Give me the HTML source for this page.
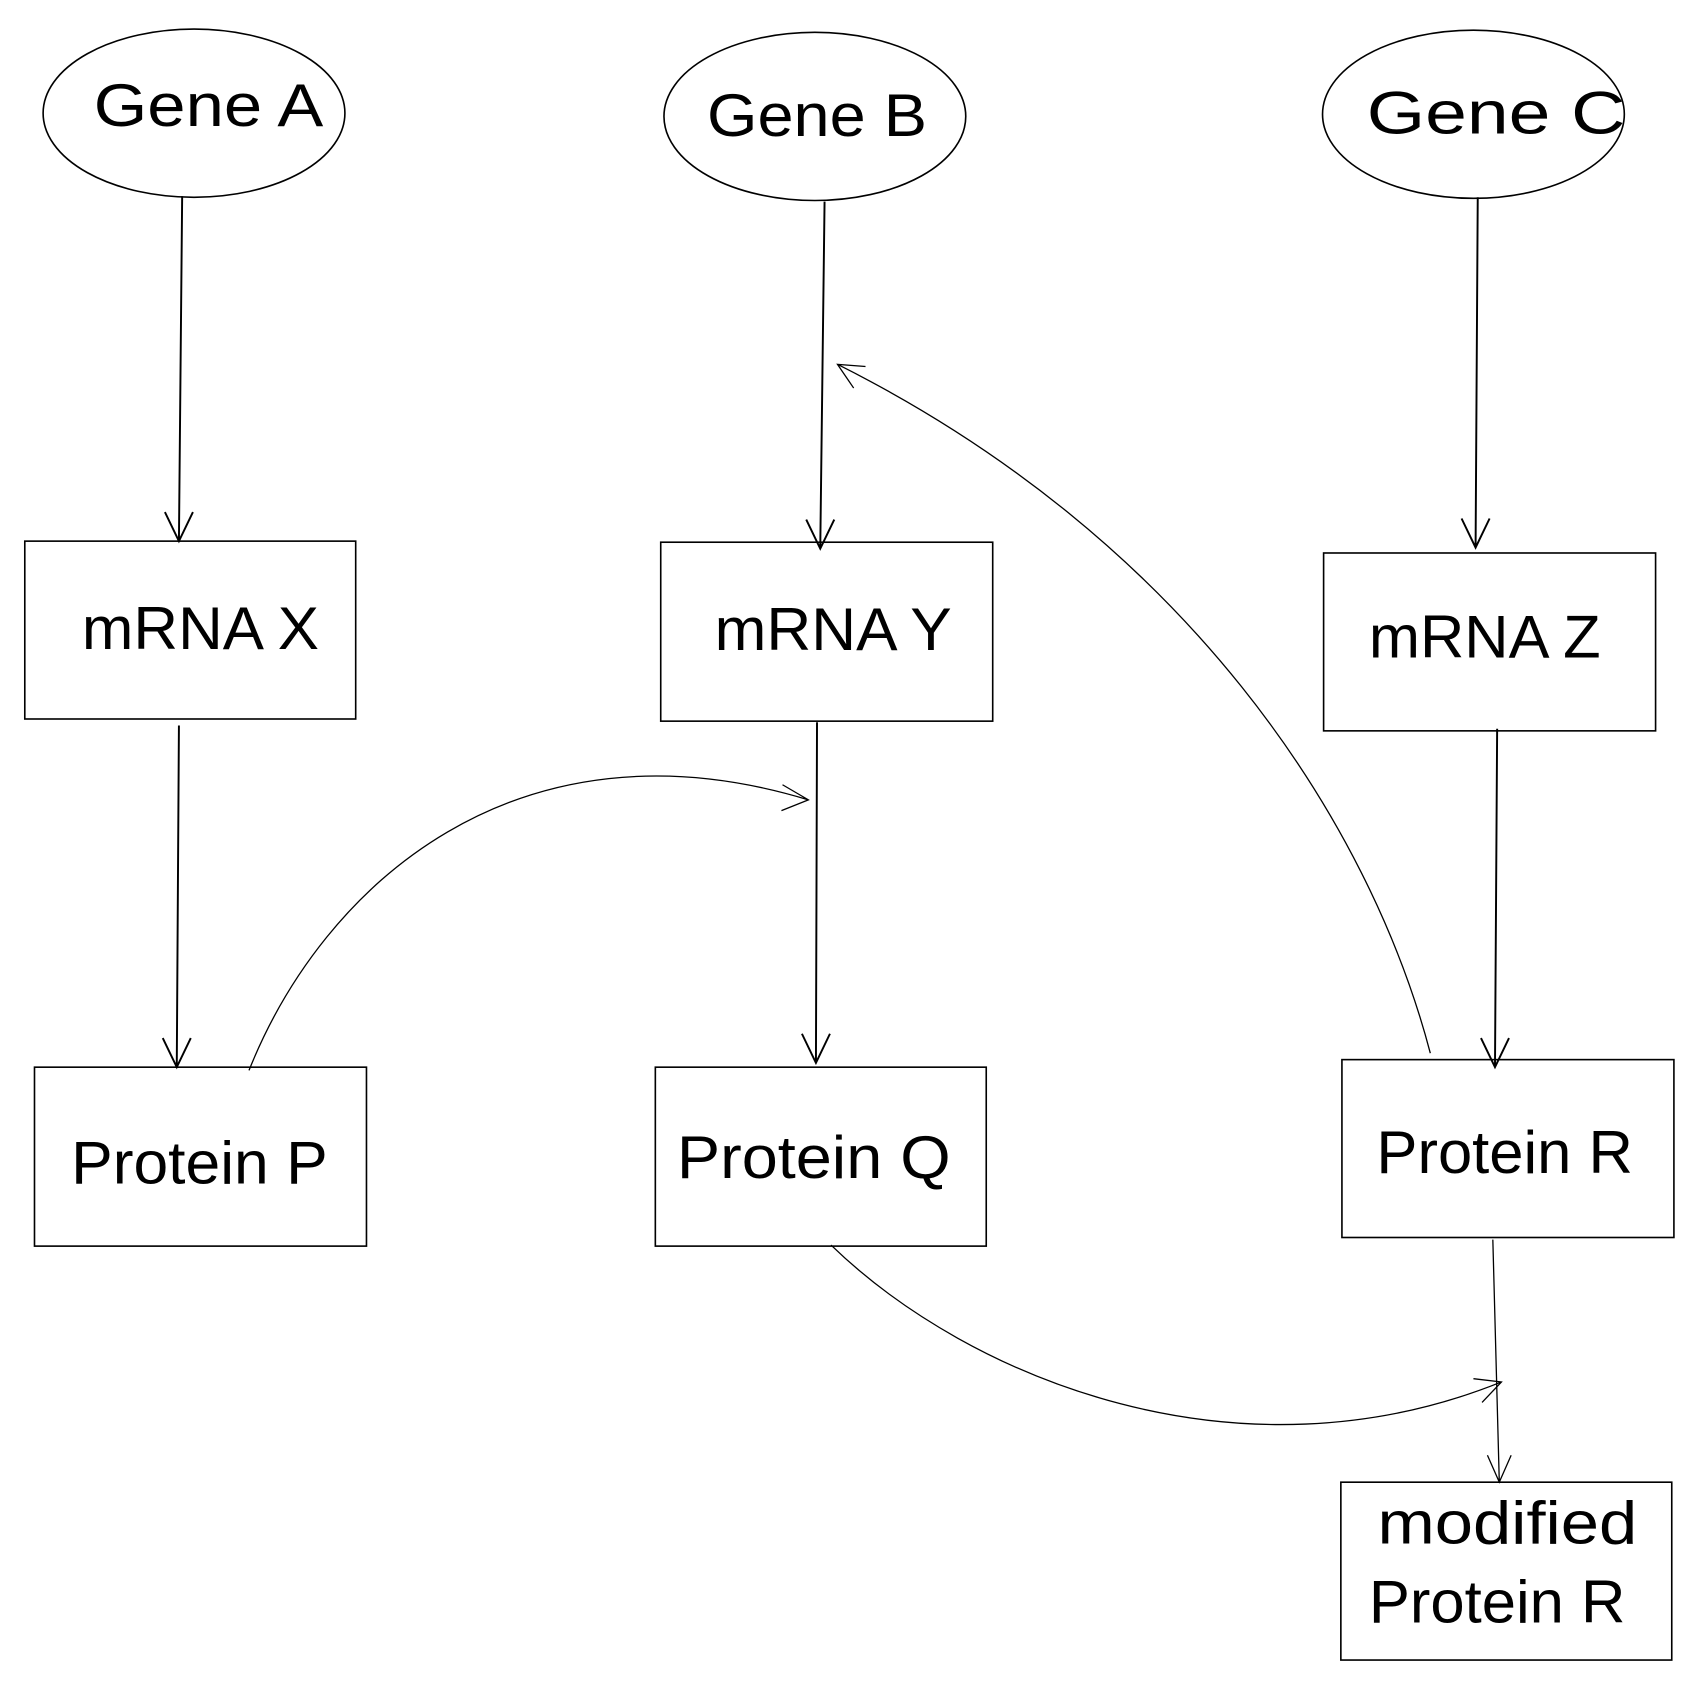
<!DOCTYPE html>
<html><head><style>html,body{margin:0;padding:0;background:#fff}svg{display:block}</style></head><body>
<svg width="1689" height="1687" viewBox="0 0 1567 1565" preserveAspectRatio="none" xmlns="http://www.w3.org/2000/svg">
<g fill="none" stroke="#000" stroke-width="1.5">
<ellipse cx="180" cy="105" rx="140" ry="78"/>
<ellipse cx="756" cy="108" rx="140" ry="78"/>
<ellipse cx="1367" cy="106" rx="140" ry="78"/>
<rect x="23" y="502" width="307" height="165"/>
<rect x="613" y="503" width="308" height="166"/>
<rect x="1228" y="513" width="308" height="165"/>
<rect x="32" y="990" width="308" height="166"/>
<rect x="608" y="990" width="307" height="166"/>
<rect x="1245" y="983" width="308" height="165"/>
<rect x="1244" y="1375" width="307" height="165"/>
<g stroke-width="1.8">
<path d="M169 182 L166 502 M153 475 L166 502 L179 475"/>
<path d="M166 673 L164 990 M151 963 L164 990 L177 963"/>
<path d="M765 187 L761 509 M748 482 L761 509 L774 482"/>
<path d="M758 670 L757 986 M744 959 L757 986 L770 959"/>
<path d="M1371 183 L1369 508 M1356 481 L1369 508 L1382 481"/>
<path d="M1389 676 L1387 990 M1374 963 L1387 990 L1400 963"/>
</g>
<g stroke-width="1.2">
<path d="M1385 1150 L1391 1375 M1380 1350 L1391 1375 L1402 1350"/>
<path d="M231 993 C300 820 480 660 750 742 M726 728 L750 742 L725 752"/>
<path d="M1327 977 C1270 760 1100 500 777 338 M792 360 L777 338 L803 340"/>
<path d="M771 1155 C900 1280 1150 1380 1393 1282 M1367 1279 L1393 1282 L1375 1301"/>
</g>
</g>
<g font-family="Liberation Sans, sans-serif" font-size="56" fill="#000">
<text x="87" y="117" textLength="213" lengthAdjust="spacingAndGlyphs">Gene A</text>
<text x="656" y="126" textLength="204" lengthAdjust="spacingAndGlyphs">Gene B</text>
<text x="1268" y="124" textLength="240" lengthAdjust="spacingAndGlyphs">Gene C</text>
<text x="76" y="602" textLength="220" lengthAdjust="spacingAndGlyphs">mRNA X</text>
<text x="663" y="603" textLength="220" lengthAdjust="spacingAndGlyphs">mRNA Y</text>
<text x="1270" y="610" textLength="215" lengthAdjust="spacingAndGlyphs">mRNA Z</text>
<text x="66" y="1098" textLength="238" lengthAdjust="spacingAndGlyphs">Protein P</text>
<text x="628" y="1093" textLength="254" lengthAdjust="spacingAndGlyphs">Protein Q</text>
<text x="1277" y="1088" textLength="238" lengthAdjust="spacingAndGlyphs">Protein R</text>
<text x="1278" y="1432" textLength="241" lengthAdjust="spacingAndGlyphs">modified</text>
<text x="1270" y="1505" textLength="238" lengthAdjust="spacingAndGlyphs">Protein R</text>
</g>
</svg>
</body></html>
